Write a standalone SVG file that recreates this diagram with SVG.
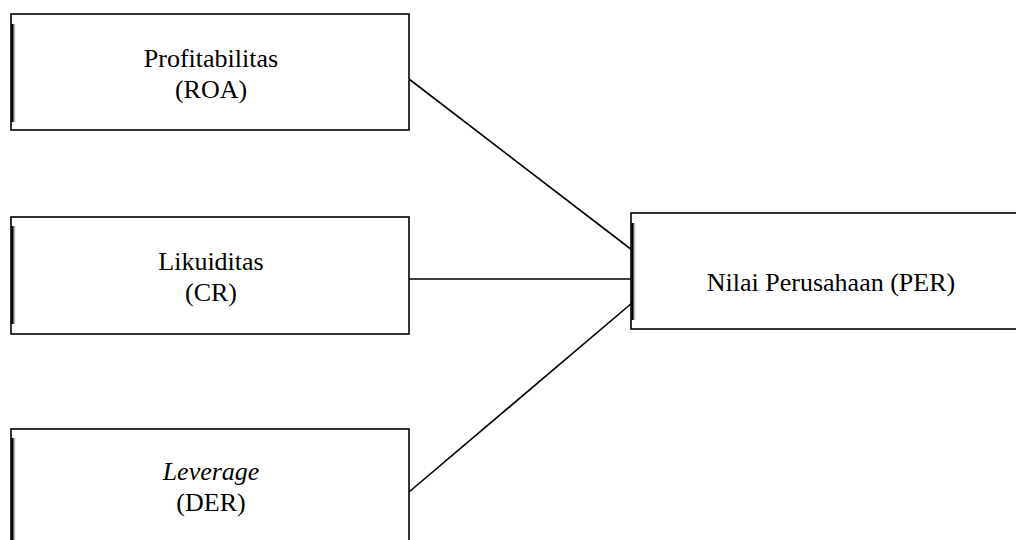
<svg xmlns="http://www.w3.org/2000/svg" width="1016" height="540" viewBox="0 0 1016 540">
<style>
.box{fill:#fff;stroke:#000;stroke-width:1.6}
.bar{stroke:#000;stroke-width:2.5}
.shade{stroke:#bbb;stroke-width:1.5}
.t{font-family:"Liberation Serif","Times New Roman",serif;font-size:26px;fill:#000;text-anchor:middle}
.conn{stroke:#000;stroke-width:1.6;fill:none}
</style>
<rect width="1016" height="540" fill="#fff"/>
<g id="connectors">
<line class="conn" x1="409" y1="79" x2="632" y2="250"/>
<line class="conn" x1="409" y1="279" x2="632" y2="279"/>
<line class="conn" x1="409" y1="492" x2="632" y2="303"/>
</g>
<g id="node-roa">
<rect class="box" x="11" y="14" width="398" height="116"/>
<line class="bar" x1="12.5" y1="24" x2="12.5" y2="122"/>
<line class="shade" x1="14.5" y1="24" x2="14.5" y2="122"/>
<text class="t" x="211" y="67">Profitabilitas</text>
<text class="t" x="211" y="98">(ROA)</text>
</g>
<g id="node-cr">
<rect class="box" x="11" y="217" width="398" height="117"/>
<line class="bar" x1="12.5" y1="226" x2="12.5" y2="324"/>
<line class="shade" x1="14.5" y1="226" x2="14.5" y2="324"/>
<text class="t" x="211" y="270">Likuiditas</text>
<text class="t" x="211" y="301">(CR)</text>
</g>
<g id="node-der">
<rect class="box" x="11" y="429" width="398" height="120"/>
<line class="bar" x1="12.5" y1="438" x2="12.5" y2="540"/>
<line class="shade" x1="14.5" y1="438" x2="14.5" y2="540"/>
<text class="t" x="211" y="480" font-style="italic">Leverage</text>
<text class="t" x="211" y="511">(DER)</text>
</g>
<g id="node-per">
<rect class="box" x="631" y="213" width="400" height="116"/>
<line class="bar" x1="632.5" y1="223" x2="632.5" y2="320"/>
<line class="shade" x1="634.5" y1="223" x2="634.5" y2="320"/>
<text class="t" x="831" y="291">Nilai Perusahaan (PER)</text>
</g>
</svg>
